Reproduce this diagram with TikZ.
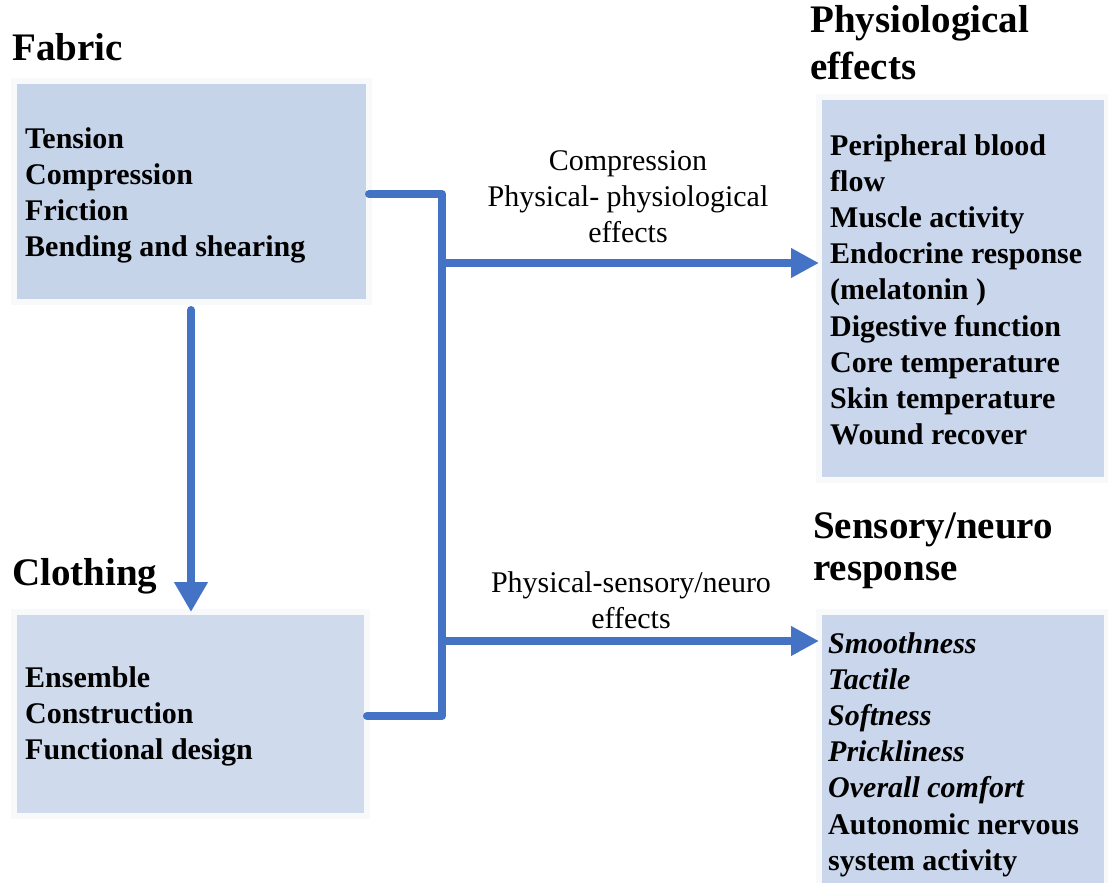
\documentclass[tikz,border=0pt]{standalone}
\usepackage{fontspec}
\setmainfont{Liberation Serif}
\usetikzlibrary{arrows.meta}
\definecolor{lnblue}{HTML}{4472C4}
\definecolor{fillA}{HTML}{C6D4EA}
\definecolor{fillB}{HTML}{C9D6EB}
\definecolor{fillC}{HTML}{CFDAEC}
\definecolor{rim}{HTML}{F8F9FB}
\tikzset{
  panel/.style={draw=rim, line width=6pt, inner sep=0pt, outer sep=0pt, anchor=north west},
  title/.style={inner sep=0pt, anchor=base west, font=\fontsize{39}{47}\selectfont\bfseries},
  items/.style={inner sep=0pt, anchor=base west, font=\fontsize{30}{36.2}\selectfont\bfseries},
  lbl/.style={inner sep=0pt, anchor=base, font=\fontsize{30}{36}\selectfont},
  conn/.style={draw=lnblue, line width=8pt, line cap=round, line join=round},
  tip/.style={-{Triangle[length=28pt,width=28pt]}}
}
\begin{document}
\begin{tikzpicture}[x=1pt,y=-1pt]
\useasboundingbox[fill=white] (0,0) rectangle (1108,883);

% boxes
\node[panel, fill=fillA, minimum width=355pt, minimum height=221pt] (fabric) at (14,81) {};
\node[panel, fill=fillC, minimum width=353pt, minimum height=204pt] (clothing) at (14,612) {};
\node[panel, fill=fillB, minimum width=288pt, minimum height=383pt] (physio) at (819,97) {};
\node[panel, fill=fillB, minimum width=288pt, minimum height=290pt] (sensory) at (819,612) {};

% titles
\node[title] (tfabric) at (12,60) {Fabric};
\node[title] (tclothing) at (12,585) {Clothing};
\node[title] (tphysio) at (810,33) {\parbox[t]{290pt}{\fontsize{39}{47}\selectfont\raggedright Physiological\\effects}};
\node[title] (tsensory) at (813,538) {\parbox[t]{290pt}{\fontsize{39}{42}\selectfont\raggedright Sensory/neuro\\response}};

% box texts
\node[items] (xfabric) at (25,148) {\parbox[t]{340pt}{\raggedright Tension\\Compression\\Friction\\Bending and shearing}};
\node[items] (xclothing) at (25,687) {\parbox[t]{340pt}{\raggedright Ensemble\\Construction\\Functional design}};
\node[items] (xphysio) at (830,155) {\parbox[t]{275pt}{\raggedright Peripheral blood\\flow\\Muscle activity\\Endocrine response\\(melatonin )\\Digestive function\\Core temperature\\Skin temperature\\Wound recover}};
\node[items] (xsensory) at (828,653) {\parbox[t]{275pt}{\raggedright \textit{Smoothness}\\\textit{Tactile}\\\textit{Softness}\\\textit{Prickliness}\\\textit{Overall comfort}\\Autonomic nervous\\system activity}};

% connector labels
\node[lbl] (lphysio) at (628,170) {\parbox[t]{320pt}{\centering Compression\\Physical- physiological\\effects}};
\node[lbl] (lsensory) at (631,592) {\parbox[t]{320pt}{\centering Physical-sensory/neuro\\effects}};

% connectors
\coordinate (j1) at (442,194);
\coordinate (j2) at (442,716);
\coordinate (a1) at (442,263);
\coordinate (a2) at (442,641);
\coordinate (d0) at (191,310);
\draw[conn] (fabric.east |- j1) -- (j1) -- (j2) -- (clothing.east |- j2);
\draw[conn, tip] (a1) -- (physio.west |- a1);
\draw[conn, tip] (a2) -- (sensory.west |- a2);
\draw[conn, -{Triangle[length=30pt,width=32pt]}] (d0) -- (clothing.north -| d0);
\end{tikzpicture}
\end{document}
